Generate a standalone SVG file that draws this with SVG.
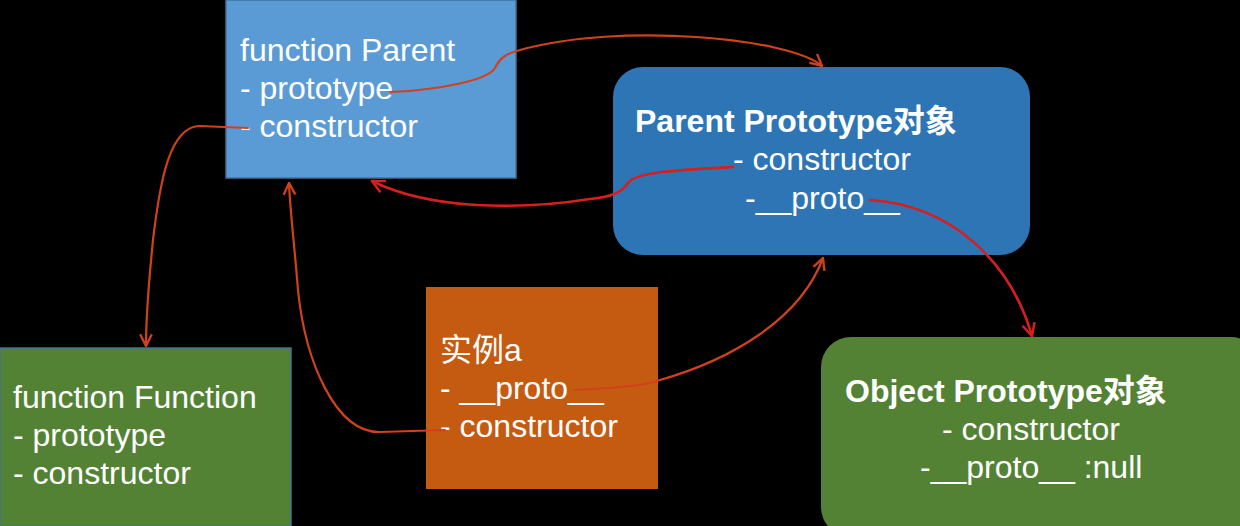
<svg xmlns="http://www.w3.org/2000/svg" width="1240" height="526" viewBox="0 0 1240 526">
<style>
text{font-family:"Liberation Sans","Noto Sans CJK SC",Arial,sans-serif;font-size:32px;fill:#ffffff}
.b{font-weight:bold}
.c{fill:none;stroke:#d0421b;stroke-width:2.2;stroke-linecap:round}
.r{stroke:#d81e1e;stroke-width:2.6}
</style>
<defs>
<marker id="ah" viewBox="0 0 12 12" refX="11" refY="6" markerWidth="14" markerHeight="14" markerUnits="userSpaceOnUse" orient="auto">
<path d="M1,1 L11,6 L1,11" fill="none" stroke="#d0421b" stroke-width="2"/>
</marker>
<marker id="ahr" viewBox="0 0 12 12" refX="11" refY="6" markerWidth="15" markerHeight="15" markerUnits="userSpaceOnUse" orient="auto">
<path d="M1,1 L11,6 L1,11" fill="none" stroke="#d81e1e" stroke-width="2"/>
</marker>
</defs>
<rect width="1240" height="526" fill="#000000"/>
<g id="functionParent">
<rect x="226" y="0" width="290" height="178" fill="#5b9bd5" stroke="#41719c" stroke-width="1.5"/>
<text x="240" y="61">function Parent</text>
<text x="240" y="99">- prototype</text>
<text x="240" y="137">- constructor</text>
</g>
<g id="parentPrototype">
<rect x="613" y="67" width="417" height="188" rx="30" ry="30" fill="#2e75b6"/>
<text class="b" x="635" y="132">Parent Prototype对象</text>
<text x="733" y="170">- constructor</text>
<text x="745" y="209">-__proto__</text>
</g>
<g id="functionFunction">
<rect x="0" y="348" width="291" height="178" fill="#548235" stroke="#41719c" stroke-width="1.5"/>
<text x="13" y="408">function Function</text>
<text x="13" y="446">- prototype</text>
<text x="13" y="484">- constructor</text>
</g>
<g id="instanceA">
<rect x="426" y="287" width="232" height="202" fill="#c55a11"/>
<text x="440" y="361">实例a</text>
<text x="440" y="399">- __proto__</text>
<text x="440" y="437">- constructor</text>
</g>
<g id="objectPrototype">
<rect x="821" y="337" width="440" height="200" rx="30" ry="30" fill="#548235"/>
<text class="b" x="845" y="402">Object Prototype对象</text>
<text x="942" y="440">- constructor</text>
<text x="920" y="478">-__proto__ :null</text>
</g>
<g id="connectors">
<path class="c" d="M390,92 C440,90 488,80 495,68 C500,58 505,54 520,50 C620,22 790,38 822,66" marker-end="url(#ah)"/>
<path class="c r" d="M733,167 C680,170 635,172 628,183 C622,193 610,197 590,199 C520,210 430,210 372,181" marker-end="url(#ahr)"/>
<path class="c" d="M248,128 L200,126 C170,126 160,180 153,240 C148,290 146,320 146,346" marker-end="url(#ah)"/>
<path class="c" d="M445,430 L380,432 C335,433 305,360 298,290 C294,240 290,210 289,183" marker-end="url(#ah)"/>
<path class="c" d="M575,390 C620,388 650,384 660,380 C730,360 800,320 823,258" marker-end="url(#ah)"/>
<path class="c r" d="M870,200 C950,205 1010,260 1032,336" marker-end="url(#ahr)"/>
</g>
</svg>
